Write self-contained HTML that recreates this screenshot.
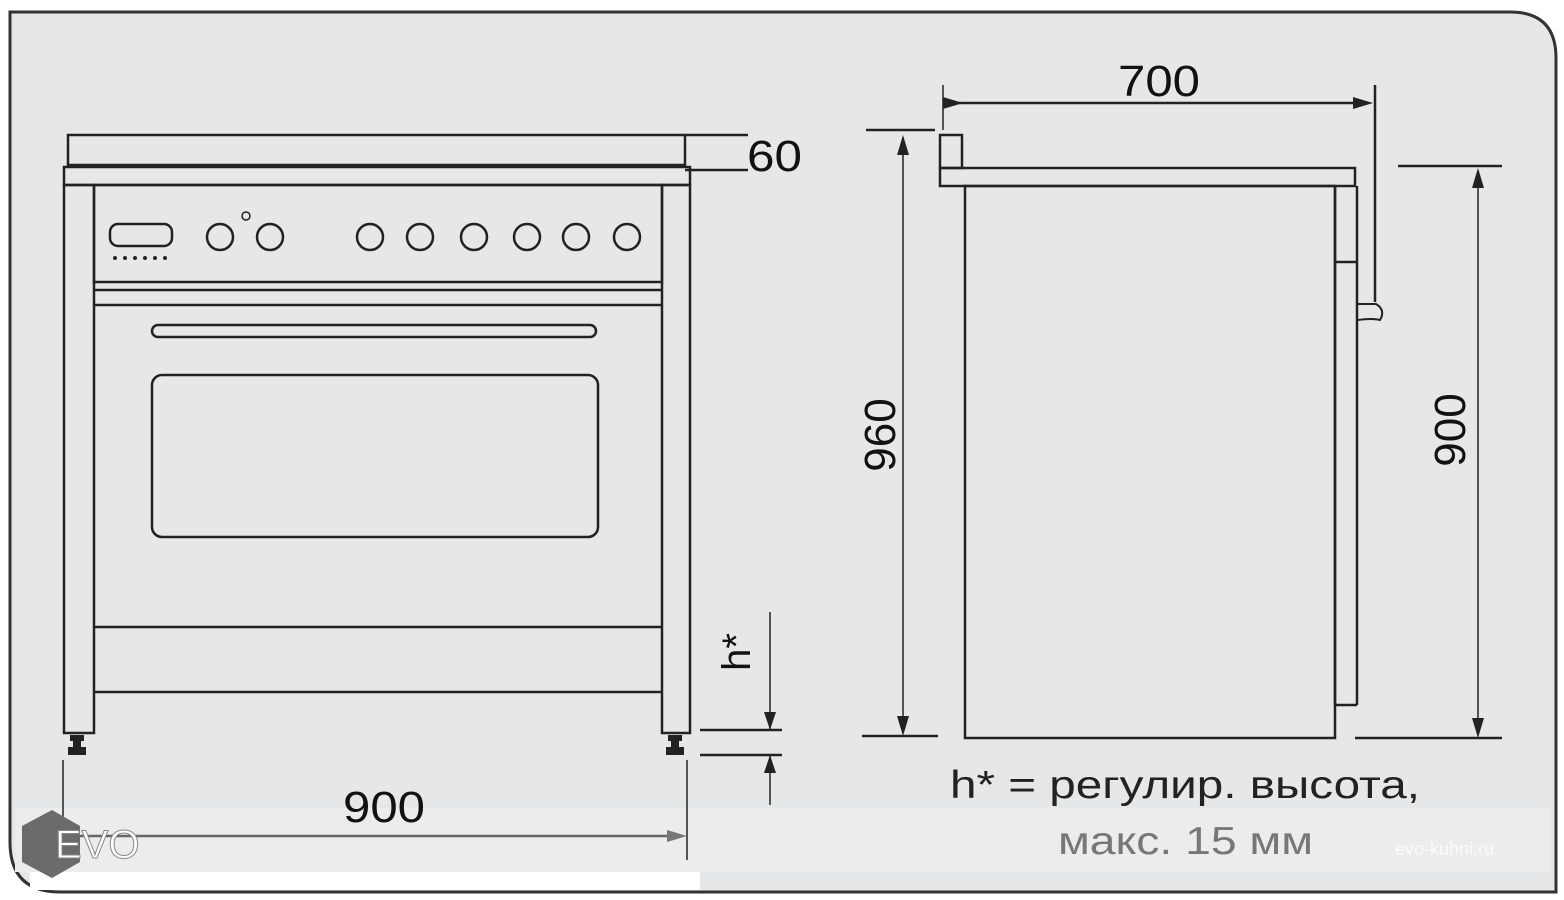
<!DOCTYPE html>
<html><head><meta charset="utf-8"><style>
html,body{margin:0;padding:0;background:#fff;}
svg{display:block;font-family:"Liberation Sans",sans-serif;}
</style></head><body>
<svg width="1564" height="900" viewBox="0 0 1564 900">
<rect width="1564" height="900" fill="#fff"/>
<path d="M10 12 H1510 Q1556 12 1556 58 V892 H60 Q10 892 10 842 Z" fill="#e6e7e9" stroke="#333" stroke-width="3"/>
<rect x="15" y="808" width="1535" height="64" fill="#ececed"/>
<rect x="30" y="872" width="670" height="18" fill="#fff"/>
<g fill="none" stroke="#222" stroke-width="2.5">
<rect x="68" y="135" width="617" height="30"/>
<rect x="64" y="167" width="626" height="18"/>
<rect x="64" y="185" width="30" height="548"/>
<rect x="662" y="185" width="28" height="548"/>
<rect x="94" y="185" width="568" height="97"/>
<line x1="94" y1="290" x2="662" y2="290"/>
<line x1="94" y1="305" x2="662" y2="305"/>
<line x1="94" y1="627" x2="662" y2="627"/>
<line x1="94" y1="692" x2="662" y2="692"/>
<rect x="152" y="375" width="446" height="162" rx="10"/>
<rect x="110" y="224" width="62" height="22" rx="8"/>
<circle cx="220" cy="237" r="13"/><circle cx="270" cy="237" r="13"/>
<circle cx="246" cy="216" r="4" stroke-width="1.5"/>
<circle cx="370" cy="237" r="13"/><circle cx="420" cy="237" r="13"/>
<circle cx="474" cy="237" r="13"/><circle cx="527" cy="237" r="13"/>
<circle cx="576" cy="237" r="13"/><circle cx="627" cy="237" r="13"/>
<rect x="152" y="325" width="444" height="12" rx="6"/>
<line x1="685" y1="135" x2="748" y2="135"/>
<line x1="685" y1="170" x2="748" y2="170"/>
<line x1="770" y1="612" x2="770" y2="730" stroke-width="1.5"/>
<line x1="700" y1="730" x2="782" y2="730"/>
<line x1="700" y1="755" x2="782" y2="755"/>
<line x1="770" y1="755" x2="770" y2="805" stroke-width="1.5"/>
<line x1="63" y1="760" x2="63" y2="820" stroke-width="1.5"/>
<line x1="687" y1="760" x2="687" y2="860" stroke-width="1.5"/>
<line x1="63" y1="836" x2="680" y2="836" stroke="#666"/>
<rect x="940" y="135" width="22" height="33"/>
<rect x="940" y="168" width="415" height="18"/>
<rect x="965" y="186" width="370" height="552"/>
<line x1="1335" y1="186" x2="1335" y2="705"/>
<line x1="1357" y1="186" x2="1357" y2="705"/>
<line x1="1335" y1="705" x2="1357" y2="705"/>
<line x1="1335" y1="262" x2="1357" y2="262"/>
<line x1="1375" y1="85" x2="1375" y2="302"/>
<path d="M1358 304 H1376 Q1386 310 1380 320 Q1372 318 1358 320" stroke-width="2"/>
<line x1="943" y1="85" x2="943" y2="130" stroke-width="1.5"/>
<line x1="943" y1="103" x2="1368" y2="103"/>
<line x1="866" y1="130" x2="935" y2="130"/>
<line x1="862" y1="736" x2="938" y2="736"/>
<line x1="903" y1="142" x2="903" y2="730" stroke-width="1.5"/>
<line x1="1398" y1="166" x2="1502" y2="166"/>
<line x1="1355" y1="738" x2="1502" y2="738"/>
<line x1="1478" y1="175" x2="1478" y2="732" stroke-width="1.5"/>
</g>
<g fill="#222">
<rect x="70" y="735" width="14" height="6"/><rect x="73" y="741" width="8" height="6"/><rect x="68" y="747" width="18" height="8"/>
<rect x="668" y="735" width="14" height="6"/><rect x="671" y="741" width="8" height="6"/><rect x="666" y="747" width="18" height="8"/>
<circle cx="115" cy="258" r="2"/><circle cx="125" cy="258" r="2"/><circle cx="135" cy="258" r="2"/><circle cx="145" cy="258" r="2"/><circle cx="155" cy="258" r="2"/><circle cx="165" cy="258" r="2"/>
<polygon points="764,712 776,712 770,730"/>
<polygon points="764,773 776,773 770,755"/>
<polygon points="667,830 667,842 687,836" fill="#777"/>
<polygon points="1353,97 1353,109 1373,103"/>
<polygon points="943,97 943,109 963,103"/>
<polygon points="897,155 909,155 903,135"/>
<polygon points="897,716 909,716 903,736"/>
<polygon points="1472,188 1484,188 1478,168"/>
<polygon points="1472,718 1484,718 1478,738"/>
</g>
<g font-size="44" fill="#111">
<text x="747" y="171" textLength="55" lengthAdjust="spacingAndGlyphs">60</text>
<text x="343" y="822" textLength="82" lengthAdjust="spacingAndGlyphs">900</text>
<text x="1118" y="96" textLength="82" lengthAdjust="spacingAndGlyphs">700</text>
<text transform="translate(895,435) rotate(-90)" text-anchor="middle">960</text>
<text transform="translate(1465,430) rotate(-90)" text-anchor="middle">900</text>
<text transform="translate(750,652) rotate(-90)" text-anchor="middle" font-size="40">h*</text>
</g>
<text x="950" y="798" font-size="39" fill="#222" textLength="470" lengthAdjust="spacingAndGlyphs">h* =  регулир. высота,</text>
<text x="1058" y="854" font-size="39" fill="#777" textLength="255" lengthAdjust="spacingAndGlyphs">макс. 15 мм</text>
<text x="1395" y="855" font-size="18" fill="#fafafa">evo-kuhni.ru</text>
<polygon points="52,810 80,826 80,862 52,878 22,862 22,826" fill="#6b6b6b"/>
<text x="55" y="858" font-size="40" fill="#fff" stroke="#888" stroke-width="1">EVO</text>
</svg>
</body></html>
